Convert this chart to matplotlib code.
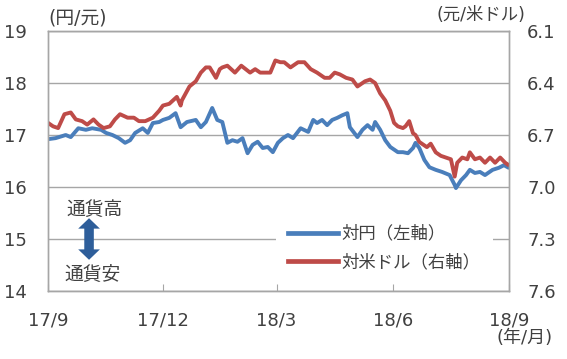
import matplotlib
matplotlib.use('Agg')
import matplotlib.pyplot as plt
import pandas as pd

plt.rcParams['font.family'] = ['DejaVu Sans', 'Noto Sans CJK JP']

# 人民元 対円 (左軸, 円/元)
jpy_dates = ['2017-09-01', '2017-09-07', '2017-09-15', '2017-09-19', '2017-09-25', '2017-10-01',
             '2017-10-06', '2017-10-13', '2017-10-17', '2017-10-22', '2017-10-27', '2017-11-01',
             '2017-11-05', '2017-11-09', '2017-11-15', '2017-11-19', '2017-11-23', '2017-11-28',
             '2017-12-01', '2017-12-06', '2017-12-11', '2017-12-15', '2017-12-20', '2017-12-27',
             '2017-12-31', '2018-01-04', '2018-01-09', '2018-01-13', '2018-01-17', '2018-01-21',
             '2018-01-25', '2018-01-29', '2018-02-02', '2018-02-06', '2018-02-10', '2018-02-14',
             '2018-02-18', '2018-02-22', '2018-02-26', '2018-03-02', '2018-03-06', '2018-03-10',
             '2018-03-14', '2018-03-20', '2018-03-26', '2018-03-30', '2018-04-02', '2018-04-06',
             '2018-04-10', '2018-04-14', '2018-04-18', '2018-04-22', '2018-04-26', '2018-04-28',
             '2018-05-04', '2018-05-08', '2018-05-12', '2018-05-16', '2018-05-18', '2018-05-22',
             '2018-05-26', '2018-05-30', '2018-06-05', '2018-06-09', '2018-06-13', '2018-06-17',
             '2018-06-19', '2018-06-22', '2018-06-26', '2018-06-30', '2018-07-05', '2018-07-10',
             '2018-07-16', '2018-07-20', '2018-07-21', '2018-07-25', '2018-07-29', '2018-08-01',
             '2018-08-05', '2018-08-09', '2018-08-13', '2018-08-19', '2018-08-24', '2018-08-28',
             '2018-08-31']
jpy_vals = [16.92, 16.94, 17.00, 16.96, 17.13, 17.10,
            17.13, 17.10, 17.04, 17.00, 16.94, 16.85,
            16.90, 17.04, 17.13, 17.04, 17.23, 17.25,
            17.29, 17.33, 17.42, 17.15, 17.25, 17.29,
            17.15, 17.25, 17.52, 17.29, 17.25, 16.85,
            16.90, 16.87, 16.94, 16.65, 16.81, 16.87,
            16.75, 16.77, 16.67, 16.85, 16.94, 17.00,
            16.94, 17.13, 17.06, 17.29, 17.23, 17.29,
            17.19, 17.29, 17.33, 17.38, 17.42, 17.15,
            16.96, 17.10, 17.19, 17.10, 17.25, 17.10,
            16.90, 16.77, 16.67, 16.67, 16.65, 16.75,
            16.85, 16.75, 16.52, 16.38, 16.33, 16.29,
            16.23, 16.04, 15.98, 16.13, 16.23, 16.33,
            16.27, 16.29, 16.23, 16.33, 16.37, 16.42,
            16.38]

# 人民元 対米ドル (右軸, 元/米ドル)
usd_dates = ['2017-09-01', '2017-09-05', '2017-09-09', '2017-09-14', '2017-09-19', '2017-09-23',
             '2017-09-28', '2017-10-02', '2017-10-07', '2017-10-11', '2017-10-15', '2017-10-20',
             '2017-10-24', '2017-10-28', '2017-11-03', '2017-11-08', '2017-11-12', '2017-11-17',
             '2017-11-23', '2017-11-28', '2017-12-01', '2017-12-06', '2017-12-12', '2017-12-15',
             '2017-12-16', '2017-12-22', '2017-12-27', '2017-12-31', '2018-01-04', '2018-01-07',
             '2018-01-12', '2018-01-15', '2018-01-17', '2018-01-21', '2018-01-27', '2018-02-01',
             '2018-02-08', '2018-02-12', '2018-02-16', '2018-02-24', '2018-02-28', '2018-03-04',
             '2018-03-07', '2018-03-12', '2018-03-18', '2018-03-23', '2018-03-28', '2018-04-02',
             '2018-04-08', '2018-04-12', '2018-04-16', '2018-04-20', '2018-04-25', '2018-04-30',
             '2018-05-04', '2018-05-10', '2018-05-14', '2018-05-18', '2018-05-22', '2018-05-26',
             '2018-05-30', '2018-06-02', '2018-06-05', '2018-06-09', '2018-06-11', '2018-06-14',
             '2018-06-17', '2018-06-19', '2018-06-22', '2018-06-26', '2018-06-28', '2018-07-01',
             '2018-07-05', '2018-07-09', '2018-07-13', '2018-07-17', '2018-07-20', '2018-07-22',
             '2018-07-26', '2018-07-30', '2018-08-01', '2018-08-05', '2018-08-09', '2018-08-13',
             '2018-08-17', '2018-08-21', '2018-08-25', '2018-08-29', '2018-08-31']
usd_vals = [6.63, 6.65, 6.66, 6.58, 6.57, 6.61,
            6.62, 6.64, 6.61, 6.64, 6.66, 6.65,
            6.61, 6.58, 6.60, 6.60, 6.62, 6.62,
            6.60, 6.56, 6.53, 6.52, 6.48, 6.53,
            6.50, 6.42, 6.39, 6.34, 6.31, 6.31,
            6.37, 6.32, 6.31, 6.30, 6.34, 6.30,
            6.34, 6.32, 6.34, 6.34, 6.27, 6.28,
            6.28, 6.31, 6.28, 6.28, 6.32, 6.34,
            6.37, 6.37, 6.34, 6.35, 6.37, 6.38,
            6.42, 6.39, 6.38, 6.40, 6.46, 6.50,
            6.56, 6.63, 6.65, 6.66, 6.65, 6.62,
            6.69, 6.70, 6.74, 6.76, 6.77, 6.75,
            6.80, 6.82, 6.83, 6.84, 6.94, 6.86,
            6.83, 6.84, 6.80, 6.84, 6.83, 6.86,
            6.83, 6.86, 6.83, 6.86, 6.87]

x_ticks = ['2017-09-01', '2017-12-01', '2018-03-01', '2018-06-01', '2018-09-01']
x_labels = ['17/9', '17/12', '18/3', '18/6', '18/9']
left_ticks = [14, 15, 16, 17, 18, 19]
right_ticks = [6.1, 6.4, 6.7, 7.0, 7.3, 7.6]

blue = '#4A7EBB'
red = '#BE4B48'
grid_c = '#A6A6A6'
txt_c = '#404040'

fig = plt.figure(figsize=(5.67, 3.59), dpi=100)
ax = fig.add_axes([0.0847, 0.1894, 0.8130, 0.7242])
ax2 = ax.twinx()

l1, = ax.plot(pd.to_datetime(jpy_dates), jpy_vals, color=blue, lw=2.8,
              solid_joinstyle='round', label='対円（左軸）')
l2, = ax2.plot(pd.to_datetime(usd_dates), usd_vals, color=red, lw=2.8,
               solid_joinstyle='round', label='対米ドル（右軸）')

ax.set_xlim(pd.Timestamp('2017-09-01'), pd.Timestamp('2018-09-01'))
ax.set_ylim(14, 19)
ax.set_yticks(left_ticks)
ax2.set_ylim(7.6, 6.1)
ax2.set_yticks(right_ticks)
ax2.set_yticklabels(['%.1f' % v for v in right_ticks])
ax.grid(axis='y', color=grid_c, lw=1)
ax.set_axisbelow(True)

ax.set_xticks(pd.to_datetime(x_ticks))
ax.set_xticklabels(x_labels)

for a in (ax, ax2):
    for s in a.spines.values():
        s.set_color(grid_c)
        s.set_linewidth(1)
ax.tick_params(axis='y', length=0, pad=15, labelsize=13, labelcolor=txt_c)
ax2.tick_params(axis='y', length=0, pad=13, labelsize=13, labelcolor=txt_c)
ax.tick_params(axis='x', direction='in', length=5, color=grid_c, pad=15,
               labelsize=13, labelcolor=txt_c)

leg = ax2.legend(handles=[l1, l2], loc='lower right', bbox_to_anchor=(0.965, 0.03),
                 frameon=True, framealpha=1, facecolor='white', edgecolor='none',
                 fontsize=12.5, handlelength=2.9, handletextpad=0.2, labelspacing=0.6,
                 borderpad=0.7, borderaxespad=0, fancybox=False)
for t in leg.get_texts():
    t.set_color(txt_c)
for h in leg.get_lines():
    h.set_linewidth(3.4)

# 通貨高 / 通貨安 の矢印 (中央から上下へ)
arrow_style = dict(arrowstyle='simple,head_length=0.6,head_width=1.25,tail_width=0.55',
                   mutation_scale=12.5, color='#2E5E9A', lw=0, shrinkA=0, shrinkB=0)
ax.annotate('', xy=(0.089, 0.28), xytext=(0.089, 0.2), xycoords='axes fraction',
            arrowprops=arrow_style)
ax.annotate('', xy=(0.089, 0.12), xytext=(0.089, 0.2), xycoords='axes fraction',
            arrowprops=arrow_style)
ax.text(0.102, 0.315, '通貨高', transform=ax.transAxes, ha='center', va='center',
        fontsize=13.5, color=txt_c)
ax.text(0.096, 0.062, '通貨安', transform=ax.transAxes, ha='center', va='center',
        fontsize=13.5, color=txt_c)

fig.text(0.085, 0.95, '(円/元)', ha='left', va='center', fontsize=13.5, color=txt_c)
fig.text(0.926, 0.957, '(元/米ドル)', ha='right', va='center', fontsize=12.5, color=txt_c)
fig.text(0.975, 0.058, '(年/月)', ha='right', va='center', fontsize=13, color=txt_c)

fig.savefig('out.png', dpi=100)
